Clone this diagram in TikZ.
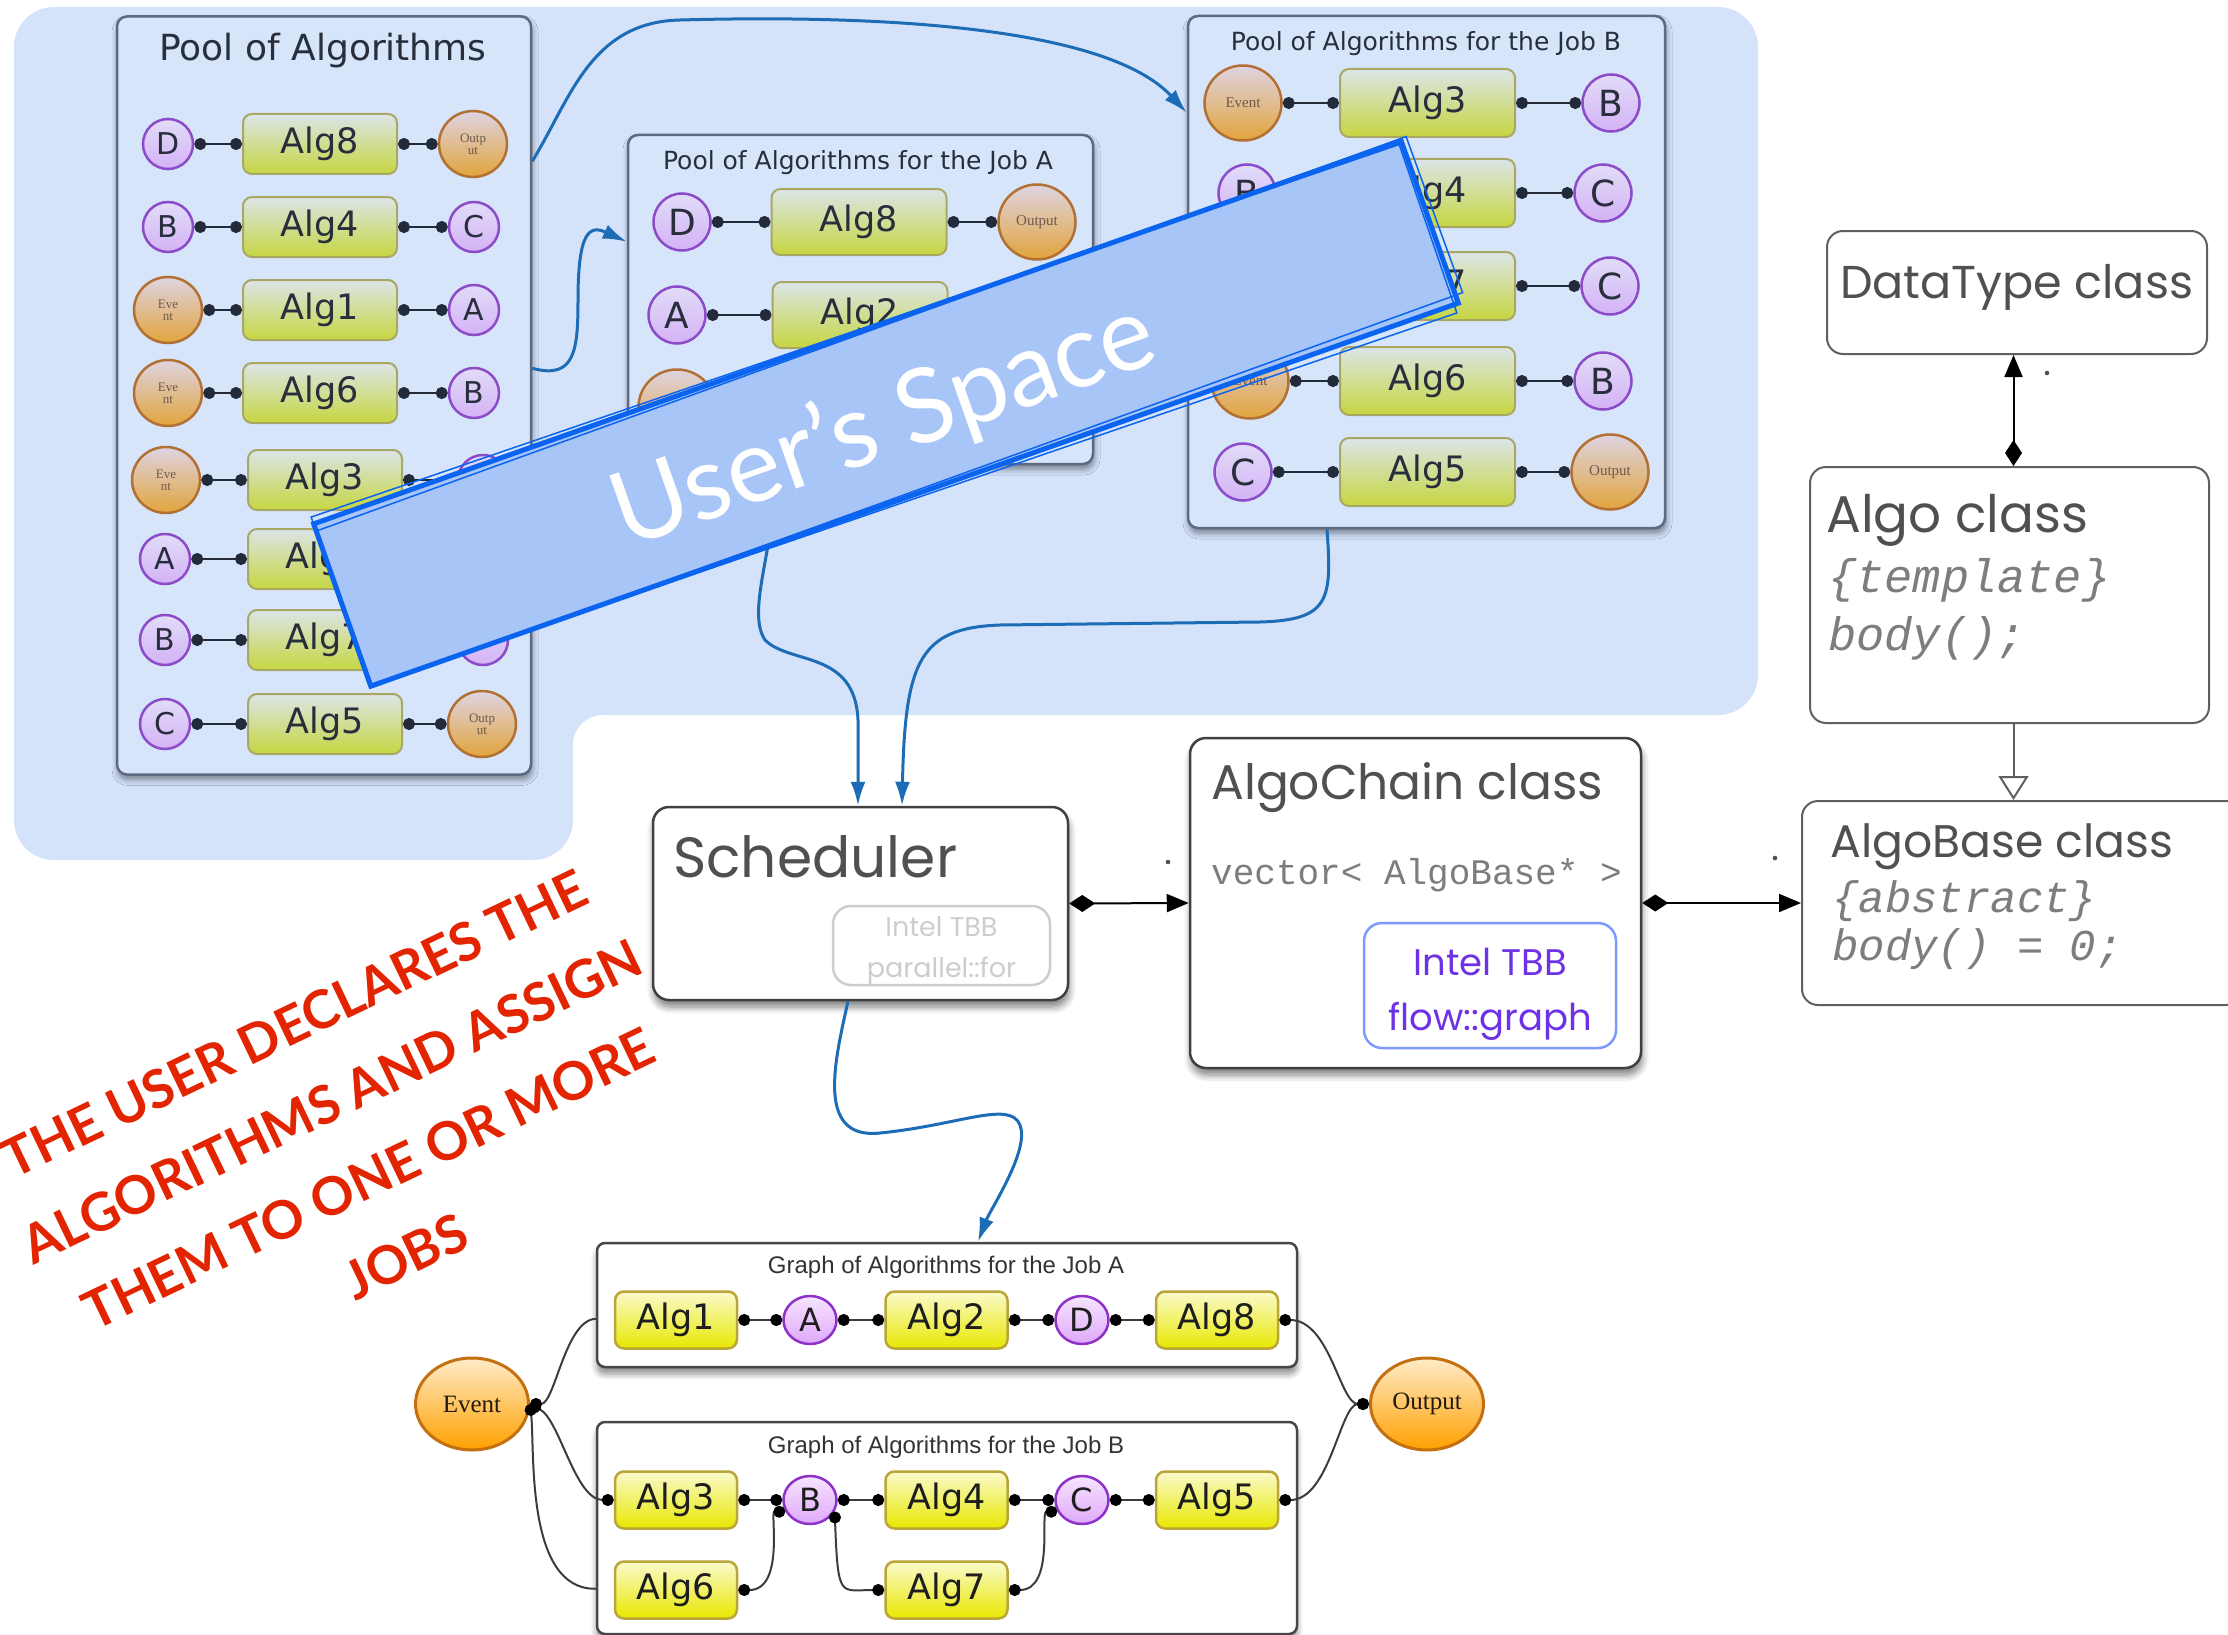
\documentclass[tikz,border=0pt]{standalone}
\usepackage{fontspec}
\usepackage{graphicx}
\setmainfont{DejaVu Sans}
\newfontfamily\dvsans{DejaVu Sans}
\newfontfamily\libsans{Liberation Sans}
\newfontfamily\libserif{Liberation Serif}
\newfontfamily\libmono{Liberation Mono}
\newfontfamily\geosans{Poppins}
\newfontfamily\latofam{Lato}
\usetikzlibrary{arrows.meta,shapes.geometric,shadows.blur}

% set a label to a fixed width
\newcommand\fitwidth[2]{\resizebox{#1}{!}{#2}}

% palette
\definecolor{bluebg}{RGB}{212,226,250}
\definecolor{poolfill}{RGB}{215,229,251}
\definecolor{poolline}{RGB}{95,105,125}
\definecolor{pooltext}{RGB}{40,46,60}
\definecolor{palgtop}{RGB}{220,229,232}
\definecolor{palgbot}{RGB}{198,214,64}
\definecolor{palgline}{RGB}{168,168,100}
\definecolor{ppurtop}{RGB}{225,220,248}
\definecolor{ppurbot}{RGB}{212,178,246}
\definecolor{ppurline}{RGB}{140,75,200}
\definecolor{porgtop}{RGB}{222,212,226}
\definecolor{porgbot}{RGB}{226,164,60}
\definecolor{porgline}{RGB}{178,112,50}
\definecolor{porgtext}{RGB}{110,90,80}
\definecolor{wire}{RGB}{35,42,58}
\definecolor{flowblue}{RGB}{28,108,182}
\definecolor{galgtop}{RGB}{250,250,205}
\definecolor{galgbot}{RGB}{232,232,0}
\definecolor{galgline}{RGB}{186,166,56}
\definecolor{gpurtop}{RGB}{248,228,255}
\definecolor{gpurbot}{RGB}{222,168,250}
\definecolor{gpurline}{RGB}{140,50,200}
\definecolor{gorgtop}{RGB}{255,236,200}
\definecolor{gorgbot}{RGB}{255,160,0}
\definecolor{gorgline}{RGB}{196,112,16}
\definecolor{gtext}{RGB}{30,30,30}
\definecolor{gwirecol}{RGB}{60,60,60}
\definecolor{classline}{RGB}{95,95,95}
\definecolor{classtext}{RGB}{80,80,80}
\definecolor{codetext}{RGB}{125,125,125}
\definecolor{tbbgray}{RGB}{205,205,205}
\definecolor{tbbblue}{RGB}{125,155,255}
\definecolor{tbbtext}{RGB}{110,50,230}
\definecolor{bannerfill}{RGB}{168,197,248}
\definecolor{bannerline}{RGB}{10,100,240}
\definecolor{notered}{RGB}{226,36,0}

\tikzset{
  pool box/.style={draw=poolline, line width=2.5pt, fill=poolfill, rounded corners=10pt, inner sep=0pt,
    blur shadow={shadow xshift=1pt, shadow yshift=-5pt, shadow blur radius=6pt, shadow opacity=45, shadow blur steps=6}},
  pool title/.style={inner sep=0pt, text=pooltext, font=\dvsans\fontsize{36}{40}\selectfont},
  pool subtitle/.style={inner sep=0pt, text=pooltext, font=\dvsans\fontsize{25}{28}\selectfont},
  pool alg/.style={draw=palgline, line width=2pt, rounded corners=9pt, top color=palgtop, bottom color=palgbot,
    minimum width=154pt, minimum height=60pt, inner sep=0pt, text=pooltext, font=\dvsans\fontsize{35}{40}\selectfont},
  pool alg big/.style={pool alg, minimum width=175pt, minimum height=66pt},
  pool data/.style={circle, draw=ppurline, line width=2.5pt, top color=ppurtop, bottom color=ppurbot,
    minimum size=50pt, inner sep=0pt, text=pooltext, font=\dvsans\fontsize{30}{30}\selectfont},
  pool data big/.style={pool data, minimum size=57pt, font=\dvsans\fontsize{36}{36}\selectfont},
  pool io/.style={ellipse, draw=porgline, line width=2.5pt, top color=porgtop, bottom color=porgbot,
    minimum width=68pt, minimum height=66pt, inner sep=0pt, align=center, text=porgtext,
    font=\libserif\fontsize{13}{12}\selectfont},
  pool io big/.style={pool io, minimum width=77pt, minimum height=75pt, font=\libserif\fontsize{15}{15}\selectfont},
  pool wire/.style={draw=wire, line width=2pt, {Circle[length=12pt]}-{Circle[length=12pt]}},
  flow/.style={draw=flowblue, line width=3pt, -{Latex[length=24pt,width=15pt]}},
  banner/.style={rotate=19.4, fill=bannerfill, draw=bannerline, line width=5pt,
    minimum width=1153pt, minimum height=172pt, inner sep=0pt},
  banner stroke/.style={draw=bannerline, line width=1.5pt, inner sep=0pt},
  banner text/.style={rotate=19.4, inner sep=0pt, text=white, font=\latofam\fontsize{103}{103}\selectfont},
  note/.style={rotate=25.6, inner sep=0pt, align=center, text=notered,
    font=\latofam\bfseries\fontsize{53}{86}\selectfont},
  uml box/.style={draw=classline, line width=2pt, rounded corners=16pt, fill=white, inner sep=0pt},
  uml shadow box/.style={draw=black!75, line width=2.5pt, rounded corners=16pt, fill=white, inner sep=0pt,
    blur shadow={shadow xshift=1pt, shadow yshift=-7pt, shadow blur radius=7pt, shadow opacity=50, shadow blur steps=6}},
  class label/.style={inner sep=0pt, text=classtext, font=\geosans\fontsize{56}{60}\selectfont},
  code plain/.style={inner sep=0pt, text=codetext, font=\libmono\fontsize{36}{40}\selectfont},
  code italic/.style={inner sep=0pt, text=codetext, font=\libmono\itshape\fontsize{47}{50}\selectfont},
  code italic small/.style={inner sep=0pt, text=codetext, font=\libmono\itshape\fontsize{44}{48}\selectfont},
  tbb gray/.style={draw=tbbgray, line width=2.5pt, rounded corners=18pt, inner sep=0pt},
  tbb gray text/.style={inner sep=0pt, align=center, text=tbbgray, font=\geosans\fontsize{27}{41}\selectfont},
  tbb blue/.style={draw=tbbblue, line width=2.5pt, rounded corners=18pt, inner sep=0pt},
  tbb blue text/.style={inner sep=0pt, align=center, text=tbbtext, font=\geosans\fontsize{37}{55}\selectfont},
  compose/.style={draw=black, line width=2pt, {Diamond[length=26pt,width=17pt]}-{Triangle[length=22pt,width=18pt]}},
  inherit/.style={draw=classline, line width=2pt, -{Triangle[open,length=24pt,width=30pt,fill=white]}},
  g box/.style={draw=black!72, line width=2.5pt, rounded corners=8pt, fill=white, inner sep=0pt,
    blur shadow={shadow xshift=0pt, shadow yshift=-7pt, shadow blur radius=6pt, shadow opacity=45, shadow blur steps=6}},
  g title/.style={inner sep=0pt, text=black!80, font=\libsans\fontsize{24}{26}\selectfont},
  g alg/.style={draw=galgline, line width=2.5pt, rounded corners=9pt, top color=galgtop, bottom color=galgbot,
    minimum width=122pt, minimum height=57pt, inner sep=0pt, text=gtext, font=\dvsans\fontsize{35}{40}\selectfont},
  g data/.style={ellipse, draw=gpurline, line width=2.5pt, top color=gpurtop, bottom color=gpurbot,
    minimum width=53pt, minimum height=48pt, inner sep=0pt, text=gtext, font=\dvsans\fontsize{32}{32}\selectfont},
  g io/.style={ellipse, draw=gorgline, line width=3pt, top color=gorgtop, bottom color=gorgbot,
    minimum width=113pt, minimum height=92pt, inner sep=0pt, text=black!80!brown, font=\libserif\fontsize{25}{25}\selectfont},
  g wire/.style={draw=gwirecol, line width=2pt, {Circle[length=12pt,black]}-{Circle[length=12pt,black]}},
  g wire start/.style={draw=gwirecol, line width=2pt, {Circle[length=12pt,black]}-},
}

\begin{document}
\begin{tikzpicture}[x=1pt, y=-1pt]
\useasboundingbox (0,0) rectangle (2228,1635);

% ---------- user space background ----------
\fill[bluebg, rounded corners=40pt] (14,7) rectangle (1758,715);
\fill[bluebg, rounded corners=40pt] (14,600) rectangle (573,860);
% concave fillet where the two parts meet
\fill[bluebg] (573,715) rectangle (603,745);
\fill[white] (603,745) circle (30);

% ---------- pool of algorithms ----------
\node[pool box, minimum width=414pt, minimum height=758pt] (pool) at (324,395.5) {};
\node[pool title] (poolT) at (323,51) {Pool of Algorithms};

\node[pool data] (pD1) at (168,144) {D};
\node[pool alg]  (pAlg8) at (320,144) {Alg8};
\node[pool io]   (pO1) at (473,144) {Outp\\ut};
\node[pool data] (pB1) at (168,227) {B};
\node[pool alg]  (pAlg4) at (320,227) {Alg4};
\node[pool data] (pC1) at (474,227) {C};
\node[pool io]   (pE1) at (168,310) {Eve\\nt};
\node[pool alg]  (pAlg1) at (320,310) {Alg1};
\node[pool data] (pA1) at (474,310) {A};
\node[pool io]   (pE2) at (168,393) {Eve\\nt};
\node[pool alg]  (pAlg6) at (320,393) {Alg6};
\node[pool data] (pB2) at (474,393) {B};
\node[pool io]   (pE3) at (166,480) {Eve\\nt};
\node[pool alg]  (pAlg3) at (325,480) {Alg3};
\node[pool data] (pR5) at (483,480) {};
\node[pool data] (pA2) at (165,559) {A};
\node[pool alg]  (pAlg2) at (325,559) {Alg2};
\node[pool data] (pB3) at (165,640) {B};
\node[pool alg]  (pAlg7) at (325,640) {Alg7};
\node[pool data] (pR7) at (483,640) {};
\node[pool data] (pC2) at (165,724) {C};
\node[pool alg]  (pAlg5) at (325,724) {Alg5};
\node[pool io]   (pO2) at (482,724) {Outp\\ut};

\foreach \l/\a/\r in {pD1/pAlg8/pO1, pB1/pAlg4/pC1, pE1/pAlg1/pA1, pE2/pAlg6/pB2,
                      pE3/pAlg3/pR5, pB3/pAlg7/pR7, pC2/pAlg5/pO2} {
  \draw[pool wire] (\l.east) -- (\a.west);
  \draw[pool wire] (\a.east) -- (\r.west);
}
\draw[pool wire] (pA2.east) -- (pAlg2.west);

% ---------- pool for job A ----------
\node[pool box, minimum width=465pt, minimum height=329pt] (poolA) at (860.5,299.5) {};
\node[pool subtitle] (poolAT) at (858,163) {Pool of Algorithms for the Job A};
\node[pool data big] (aD) at (682,222) {D};
\node[pool alg big]  (aAlg8) at (859,222) {Alg8};
\node[pool io big]   (aOut) at (1037,222) {Output};
\node[pool data big] (aA) at (677,315) {A};
\node[pool alg big]  (aAlg2) at (860,315) {Alg2};
\node[pool io big]   (aEv) at (677,407) {};
\draw[pool wire] (aD.east) -- (aAlg8.west);
\draw[pool wire] (aAlg8.east) -- (aOut.west);
\draw[pool wire] (aA.east) -- (aAlg2.west);

% ---------- pool for job B ----------
\node[pool box, minimum width=477pt, minimum height=512pt] (poolB) at (1426.5,272) {};
\node[pool subtitle] (poolBT) at (1426,44) {Pool of Algorithms for the Job B};
\node[pool io big]   (bEv1) at (1243,103) {Event};
\node[pool alg big, minimum height=68pt] (bAlg3) at (1427.5,103) {Alg3};
\node[pool data big] (bB1) at (1611,103) {B};
\node[pool data big] (bB2) at (1247,193) {B};
\node[pool alg big, minimum height=68pt] (bAlg4) at (1427.5,193) {Alg4};
\node[pool data big] (bC1) at (1603,193) {C};
\node[pool alg big, minimum height=68pt] (bAlg7) at (1427.5,286) {Alg7};
\node[pool data big] (bC2) at (1610,286) {C};
\node[pool io big]   (bEv2) at (1250,381) {Event};
\node[pool alg big, minimum height=68pt] (bAlg6) at (1427.5,381) {Alg6};
\node[pool data big] (bB3) at (1603,381) {B};
\node[pool data big] (bC3) at (1243,472) {C};
\node[pool alg big, minimum height=68pt] (bAlg5) at (1427.5,472) {Alg5};
\node[pool io big]   (bOut) at (1610,472) {Output};
\foreach \l/\a/\r in {bEv1/bAlg3/bB1, bB2/bAlg4/bC1, bEv2/bAlg6/bB3, bC3/bAlg5/bOut} {
  \draw[pool wire] (\l.east) -- (\a.west);
  \draw[pool wire] (\a.east) -- (\r.west);
}
\draw[pool wire] (bAlg7.east) -- (bC2.west);

% ---------- hand-over arrows ----------
\draw[flow] ([yshift=-146pt]pool.north east) .. controls (570,100) and (590,22) .. (680,20)
  .. controls (900,14) and (1110,30) .. ([yshift=-98pt]poolB.north west);
\draw[flow] ([yshift=-353pt]pool.north east) .. controls (575,380) and (578,350) .. (578,300)
  .. controls (578,230) and (590,225) .. ([yshift=-108pt]poolA.north west);

% ---------- scheduler and classes ----------
\node[uml shadow box, minimum width=415pt, minimum height=193pt] (sched) at (860.5,903.5) {};
\node[class label, anchor=base west] (schedT) at (673,877) {\fitwidth{284pt}{Scheduler}};
\node[tbb gray, minimum width=217pt, minimum height=79pt] (tbbfor) at (941.5,945.5) {};
\node[tbb gray text] (tbbforT) at (941.5,951) {Intel TBB\\parallel::for};

\draw[flow] ([xshift=-85pt]poolA.south) .. controls (778,540) and (745,610) .. (765,640)
  .. controls (790,665) and (855,650) .. (858,720) -- ([xshift=-2.5pt]sched.north);
\draw[flow] ([xshift=-99.5pt]poolB.south) .. controls (1332,600) and (1330,620) .. (1260,622)
  -- (1000,625) .. controls (920,628) and (905,660) .. ([xshift=41.5pt]sched.north);

\node[uml shadow box, minimum width=451pt, minimum height=330pt] (chain) at (1415.5,903) {};
\node[class label, anchor=base west] (chainT) at (1211,799) {\fitwidth{392pt}{AlgoChain class}};
\node[code plain, anchor=west] (chainV) at (1211,875) {vector< AlgoBase* >};
\node[tbb blue, minimum width=252pt, minimum height=125pt] (tbbflow) at (1490,985.5) {};
\node[tbb blue text] (tbbflowT) at (1490,994) {Intel TBB\\flow::graph};

\node[uml box, minimum width=380pt, minimum height=123pt] (dtype) at (2017,292.5) {};
\node[class label, anchor=base west] (dtypeT) at (1840,298) {\fitwidth{353pt}{DataType class}};
\node[uml box, minimum width=399pt, minimum height=256pt] (algo) at (2009.5,595) {};
\node[class label, anchor=base west] (algoT) at (1826,532) {\fitwidth{262pt}{Algo class}};
\node[code italic, anchor=base west] (algoTpl) at (1828,592) {\{template\}};
\node[code italic, anchor=base west] (algoBody) at (1828,650) {body();};
\node[uml box, minimum width=440pt, minimum height=204pt] (base) at (2022,903) {};
\node[class label, anchor=base west] (baseT) at (1830,857) {\fitwidth{343pt}{AlgoBase class}};
\node[code italic small, anchor=base west] (baseAbs) at (1832,912) {\{abstract\}};
\node[code italic small, anchor=base west] (baseBody) at (1832,960) {body() = 0;};

\draw[compose] (sched.east) -- (chain.west);
\draw[compose] (chain.east) -- (base.west);
\draw[compose] ([xshift=4pt]algo.north) -- ([xshift=4pt]algo.north |- dtype.south);
\draw[inherit] ([xshift=4pt]algo.south) -- ([xshift=4pt]algo.south |- base.north);
\fill[classtext] (1168,862) circle (2.3);
\fill[classtext] (1775,858) circle (2.3);
\fill[classtext] (2047,373) circle (2.3);

% ---------- graphs of algorithms ----------
\node[g box, minimum width=700pt, minimum height=124pt] (gA) at (947,1305) {};
\node[g title] (gAT) at (946,1267) {Graph of Algorithms for the Job A};
\node[g box, minimum width=700pt, minimum height=212pt] (gB) at (947,1528) {};
\node[g title] (gBT) at (946,1447) {Graph of Algorithms for the Job B};

\draw[flow] ([xshift=-12.5pt]sched.south) .. controls (835,1060) and (815,1140) .. (880,1133)
  .. controls (960,1125) and (1010,1100) .. (1020,1125)
  .. controls (1030,1150) and (990,1210) .. ([xshift=31pt]gA.north);

\node[g alg]  (gA1) at (676,1320) {Alg1};
\node[g data] (gAa) at (810,1320) {A};
\node[g alg]  (gA2) at (946.5,1320) {Alg2};
\node[g data] (gAd) at (1082,1320) {D};
\node[g alg]  (gA8) at (1217,1320) {Alg8};
\node[g alg]  (gB3) at (676,1500) {Alg3};
\node[g data] (gBb) at (810,1500) {B};
\node[g alg]  (gB4) at (946.5,1500) {Alg4};
\node[g data] (gBc) at (1082,1500) {C};
\node[g alg]  (gB5) at (1217,1500) {Alg5};
\node[g alg]  (gB6) at (676,1590) {Alg6};
\node[g alg]  (gB7) at (946.5,1590) {Alg7};
\node[g io]   (gEv) at (472,1404) {Event};
\node[g io]   (gOut) at (1427,1404) {Output};

\foreach \u/\v in {gA1/gAa, gAa/gA2, gA2/gAd, gAd/gA8, gB3/gBb, gBb/gB4, gB4/gBc, gBc/gB5} {
  \draw[g wire] (\u.east) -- (\v.west);
}
\draw[g wire start] (gEv.east) .. controls (555,1404) and (565,1320) .. ([yshift=-77pt]gA.north west);
\draw[g wire] (gEv.east) .. controls (560,1420) and (575,1500) .. (gB3.west);
\draw[g wire start] (gEv.east) .. controls (535,1450) and (525,1590) .. ([yshift=-168pt]gB.north west);
\draw[g wire] (gA8.east) .. controls (1330,1320) and (1340,1404) .. (gOut.west);
\draw[g wire] (gB5.east) .. controls (1330,1500) and (1340,1404) .. (gOut.west);
\draw[g wire] (gB6.east) .. controls (785,1590) and (770,1512) .. (gBb.205);
\draw[g wire] (gBb.335) .. controls (838,1600) and (840,1590) .. (gB7.west);
\draw[g wire] (gB7.east) .. controls (1055,1590) and (1040,1512) .. (gBc.205);

% ---------- banner ----------
\node[banner] (banner) at (886,413.5) {};
\node[banner stroke, rotate=18.9, minimum width=1150pt, minimum height=178pt] (bannerS1) at (884,415) {};
\node[banner stroke, rotate=19.9, minimum width=1160pt, minimum height=166pt] (bannerS2) at (889,412) {};
\node[banner text] (bannerT) at (884,426) {User’s Space};

% ---------- handwritten note ----------
\node[note] (noteT) at (350,1140) {THE USER DECLARES THE\\ALGORITHMS AND ASSIGN\\THEM TO ONE OR MORE\\JOBS};
\end{tikzpicture}
\end{document}
